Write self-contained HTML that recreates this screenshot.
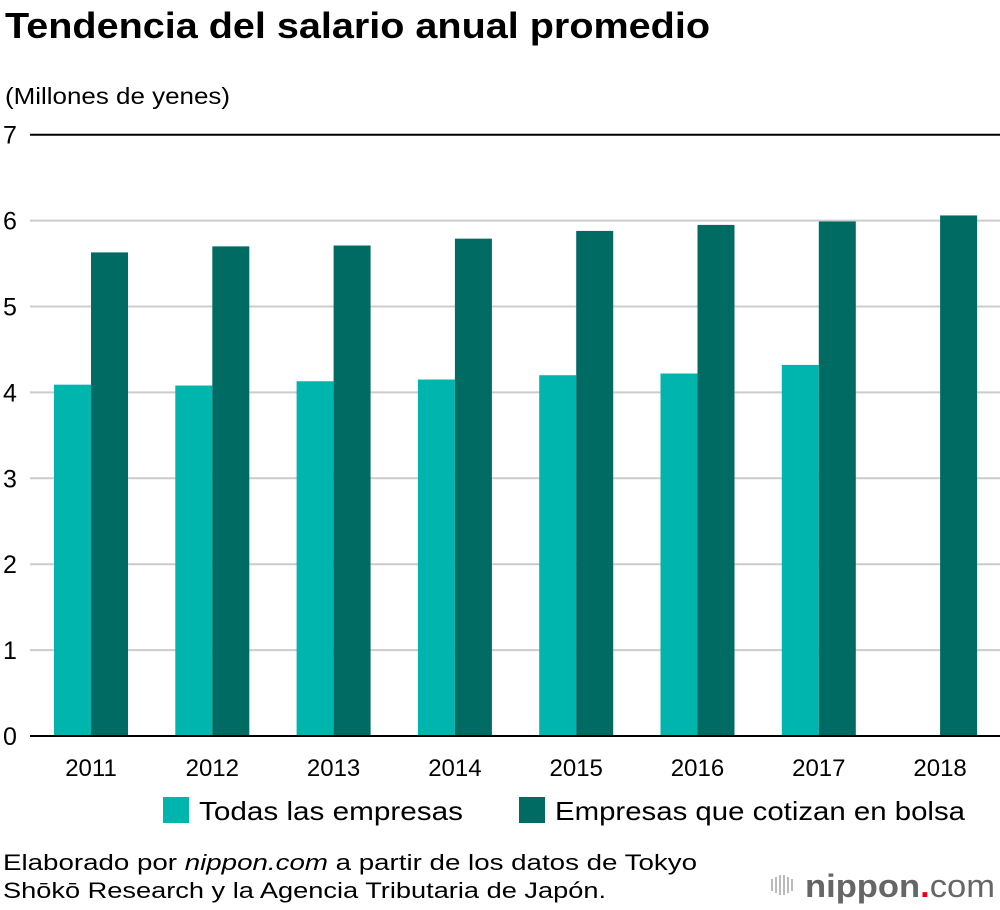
<!DOCTYPE html>
<html><head><meta charset="utf-8"><style>
body{margin:0;background:#fff;width:1000px;height:910px;overflow:hidden;font-family:"Liberation Sans",sans-serif;}
svg{display:block}
</style></head><body>
<svg width="1000" height="910">
<text x="5" y="38" font-size="36" font-weight="bold" fill="#000" textLength="705" lengthAdjust="spacingAndGlyphs">Tendencia del salario anual promedio</text>
<text x="5" y="104" font-size="23" fill="#000" textLength="225" lengthAdjust="spacingAndGlyphs">(Millones de yenes)</text>
<g id="grid"></g>
<g id="bars"></g>
<g id="xlabels"></g>
<g>
<rect x="163" y="797" width="26" height="26" fill="#00b5ad"/>
<text x="199" y="820" font-size="26" textLength="264" lengthAdjust="spacingAndGlyphs">Todas las empresas</text>
<rect x="519" y="797" width="26" height="26" fill="#006b63"/>
<text x="555" y="820" font-size="26" textLength="410" lengthAdjust="spacingAndGlyphs">Empresas que cotizan en bolsa</text>
</g>
<text x="3" y="870" font-size="22" textLength="694" lengthAdjust="spacingAndGlyphs">Elaborado por <tspan font-style="italic">nippon.com</tspan> a partir de los datos de Tokyo</text>
<text x="3" y="898" font-size="22" textLength="603" lengthAdjust="spacingAndGlyphs">Shōkō Research y la Agencia Tributaria de Japón.</text>
<g>
<g fill="#bbb"><rect x="771" y="879" width="2" height="12"/><rect x="775" y="877" width="2" height="16"/><rect x="779" y="875" width="2" height="20"/><rect x="783" y="875" width="2" height="20"/><rect x="787" y="877" width="2" height="16"/><rect x="791" y="879" width="2" height="12"/></g>
<text x="805" y="897" font-size="32" font-weight="bold" fill="#666" textLength="190" lengthAdjust="spacingAndGlyphs">nippon<tspan fill="#e60012">.</tspan><tspan font-weight="normal">com</tspan></text>
</g>
</svg>
<script>
const categories=["2011","2012","2013","2014","2015","2016","2017","2018"];
const todasValues=[4.09,4.08,4.13,4.15,4.20,4.22,4.32,null];
const bolsaValues=[5.63,5.70,5.71,5.79,5.88,5.95,5.99,6.06];
const yTicks=[0,1,2,3,4,5,6,7];
const ns="http://www.w3.org/2000/svg";
const y0=736,unit=85.9,x0=91,step=121.3,bw=37;
const yScale=v=>y0-v*unit;
const xCenter=i=>x0+i*step;
function mk(t,a,p){const e=document.createElementNS(ns,t);for(const k in a)e.setAttribute(k,a[k]);p.appendChild(e);return e;}
const grid=document.getElementById('grid'),bars=document.getElementById('bars'),xl=document.getElementById('xlabels');
yTicks.forEach(t=>{
 const y=yScale(t);const dark=(t===0||t===7);
 const l=mk('line',{x1:30,x2:1000,y1:y,y2:y,stroke:dark?'#000':'#ccc','stroke-width':2},grid);
 
 
 const tx=mk('text',{x:3,y:y+9,'font-size':25},grid);tx.textContent=t;
 
 
});
categories.forEach((c,i)=>{
 const cx=xCenter(i);
 if(todasValues[i]!=null){
  const r=mk('rect',{x:cx-bw,y:yScale(todasValues[i]),width:bw,height:y0-yScale(todasValues[i]),fill:'#00b5ad'},bars);
  
  
 }
 const r2=mk('rect',{x:cx,y:yScale(bolsaValues[i]),width:bw,height:y0-yScale(bolsaValues[i]),fill:'#006b63'},bars);
 
 
 const t=mk('text',{x:cx,y:776,'font-size':24,'text-anchor':'middle'},xl);t.textContent=c;
 
 
});
const base=mk('line',{x1:30,x2:1000,y1:y0,y2:y0,stroke:'#000','stroke-width':2},document.querySelector('svg'));


</script>
</body></html>
